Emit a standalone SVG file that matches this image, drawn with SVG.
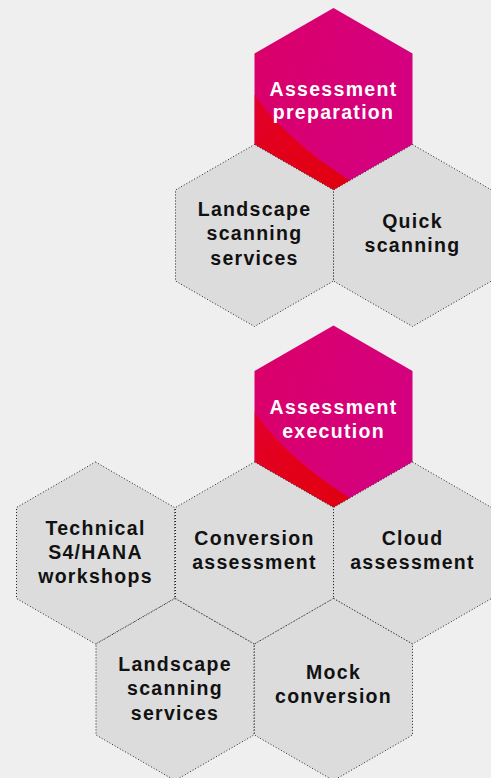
<svg xmlns="http://www.w3.org/2000/svg" width="491" height="778" viewBox="0 0 491 778">
<defs>
<polygon id="hex" points="0,-91 79,-45.5 79,45.5 0,91 -79,45.5 -79,-45.5"/>
<clipPath id="hexclip"><use href="#hex"/></clipPath>
<linearGradient id="mag" x1="0" y1="0" x2="1" y2="0.3">
<stop offset="0" stop-color="#DB0068"/>
<stop offset="1" stop-color="#D4007F"/>
</linearGradient>
<linearGradient id="red" x1="0" y1="0" x2="1" y2="1">
<stop offset="0" stop-color="#E10032"/>
<stop offset="0.45" stop-color="#E3001A"/>
<stop offset="1" stop-color="#E0000F"/>
</linearGradient>
<g id="pinkhex">
<use href="#hex" fill="url(#mag)"/>
<path clip-path="url(#hexclip)" d="M-82,-9 C-62,22 -26,56 21,84 L0,100 L-90,60 Z" fill="url(#red)"/>
</g>
</defs>
<style>
.g{fill:#DCDCDC;stroke:#222;stroke-width:1;stroke-dasharray:1 2}
.t{font-family:"Liberation Sans",Arial,sans-serif;font-weight:bold;font-size:19.5px;letter-spacing:1.3px;text-anchor:middle}
.d{fill:#111}
.w{fill:#fff}
</style>
<rect width="491" height="778" fill="#EFEFEF"/>

<g id="assessment-preparation" transform="translate(333.5,99)">
<use href="#pinkhex"/>
<text class="t w"><tspan x="0" y="-3">Assessment</tspan><tspan x="0" y="20">preparation</tspan></text>
</g>
<g id="landscape-scanning-1" transform="translate(254.5,235.5)">
<use href="#hex" class="g"/>
<text class="t d"><tspan x="0" y="-20">Landscape</tspan><tspan x="0" y="4.5">scanning</tspan><tspan x="0" y="29">services</tspan></text>
</g>
<g id="quick-scanning" transform="translate(412.5,235.5)">
<use href="#hex" class="g"/>
<text class="t d"><tspan x="0" y="-8">Quick</tspan><tspan x="0" y="16">scanning</tspan></text>
</g>

<g id="assessment-execution" transform="translate(333.5,416.5)">
<use href="#pinkhex"/>
<text class="t w"><tspan x="0" y="-3">Assessment</tspan><tspan x="0" y="21">execution</tspan></text>
</g>
<g id="technical-workshops" transform="translate(95.5,553)">
<use href="#hex" class="g"/>
<text class="t d"><tspan x="0" y="-18.5">Technical</tspan><tspan x="0" y="5.5">S4/HANA</tspan><tspan x="0" y="29.5">workshops</tspan></text>
</g>
<g id="conversion-assessment" transform="translate(254.5,553)">
<use href="#hex" class="g"/>
<text class="t d"><tspan x="0" y="-8">Conversion</tspan><tspan x="0" y="16">assessment</tspan></text>
</g>
<g id="cloud-assessment" transform="translate(412.5,553)">
<use href="#hex" class="g"/>
<text class="t d"><tspan x="0" y="-8">Cloud</tspan><tspan x="0" y="16">assessment</tspan></text>
</g>
<g id="landscape-scanning-2" transform="translate(175,689.5)">
<use href="#hex" class="g"/>
<text class="t d"><tspan x="0" y="-18.5">Landscape</tspan><tspan x="0" y="5.5">scanning</tspan><tspan x="0" y="30">services</tspan></text>
</g>
<g id="mock-conversion" transform="translate(333.5,689.5)">
<use href="#hex" class="g"/>
<text class="t d"><tspan x="0" y="-11">Mock</tspan><tspan x="0" y="13">conversion</tspan></text>
</g>
<g id="connectors"/>
</svg>
